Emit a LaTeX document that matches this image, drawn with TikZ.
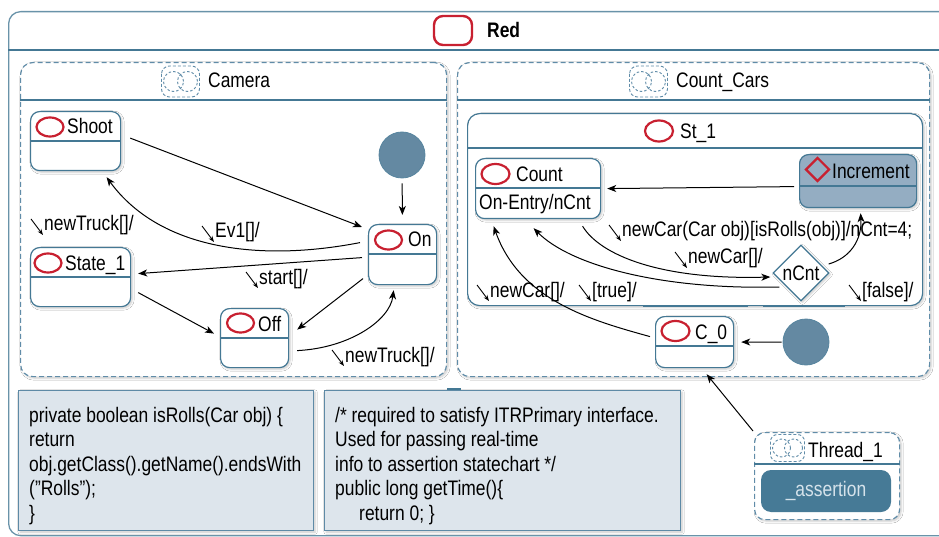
\documentclass[tikz,border=0pt]{standalone}
\usepackage{fontspec}
\setmainfont[FakeStretch=0.83]{Liberation Sans}
\usetikzlibrary{arrows.meta,shapes.geometric,shadows.blur}

\definecolor{lineblue}{RGB}{68,120,148}
\definecolor{dashblue}{RGB}{96,140,168}
\definecolor{initfill}{RGB}{100,137,162}
\definecolor{incfill}{RGB}{148,173,194}
\definecolor{codefill}{RGB}{221,229,236}
\definecolor{codeline}{RGB}{94,138,166}
\definecolor{iconred}{RGB}{200,32,48}
\definecolor{assertfill}{RGB}{70,122,150}
\definecolor{asserttext}{RGB}{214,227,235}

\tikzset{
  every node/.style={font=\fontsize{21}{24}\selectfont},
  softshadow/.style={blur shadow={shadow xshift=1.5pt,shadow yshift=-1.5pt,shadow blur steps=6,shadow opacity=22}},
  outerbox/.style={draw=lineblue!80, line width=1.3pt, fill=white, rounded corners=12pt, inner sep=0pt},
  regionbox/.style={draw=dashblue, line width=1.2pt, dash pattern=on 5pt off 3pt, fill=white, rounded corners=12pt, inner sep=0pt, softshadow},
  statebox/.style={draw=lineblue, line width=1.2pt, fill=white, rounded corners=9pt, inner sep=0pt, softshadow},
  divider/.style={draw=lineblue, line width=1.8pt},
  tickline/.style={draw=lineblue, line width=2.6pt},
  redoval/.style={draw=iconred, line width=2.2pt, ellipse, minimum width=27pt, minimum height=19pt, inner sep=0pt},
  title/.style={anchor=base west, inner sep=0pt},
  initdot/.style={circle, fill=initfill, draw=lineblue!90, line width=0.8pt, minimum size=46pt, inner sep=0pt},
  codebox/.style={draw=codeline, line width=1.2pt, fill=codefill, inner sep=0pt, softshadow},
  codetext/.style={anchor=north west, inner sep=0pt, align=left, font=\fontsize{21}{24.5}\selectfont},
  tr/.style={draw=black, line width=1pt, -{Stealth[length=9pt,width=7pt,inset=2.5pt]}},
  evtext/.style={anchor=base west, inner sep=0pt},
  evarrow/.style={draw=black, line width=0.9pt, -{Stealth[length=6pt,width=4.5pt]}},
  regionicon/.pic={
    \draw[dashblue, line width=0.9pt, dash pattern=on 3pt off 2pt, rounded corners=8pt] (-19,-15.5) rectangle (19,15.5);
    \draw[dashblue, line width=0.9pt, dash pattern=on 2.5pt off 2pt] (-7,0) circle (10pt) (7,0) circle (10pt);
  },
  smallregionicon/.pic={
    \draw[dashblue, line width=0.9pt, dash pattern=on 3pt off 2pt, rounded corners=7pt] (-17,-13.5) rectangle (17,13.5);
    \draw[dashblue, line width=0.9pt, dash pattern=on 2.5pt off 2pt] (-6,0) circle (9pt) (6,0) circle (9pt);
  }
}

% transition label with its small event arrow in front
\newcommand\evlabel[4]{%
  \node[evtext] (#1) at (#2,#3) {#4};
  \draw[evarrow] ([xshift=-13pt,yshift=12pt]#1.base west) -- ([xshift=-1pt,yshift=-4pt]#1.base west);}

\begin{document}
\begin{tikzpicture}[x=1pt,y=-1pt]
\useasboundingbox (0,0) rectangle (939,537);

% ---------- outer state Red ----------
\node[outerbox, minimum width=950pt, minimum height=524pt, anchor=north west] (red) at (8,11) {};
\draw[divider] (red.west |- 0,50) -- (red.east |- 0,50);
\node[draw=iconred, line width=2.4pt, rounded corners=9pt, minimum width=38pt, minimum height=29pt, inner sep=0pt] (redicon) at (453,30.5) {};
\node[title, font=\fontsize{21}{24}\selectfont\bfseries] (redtitle) at (487,38) {Red};

% ---------- region Camera ----------
\node[regionbox, minimum width=426pt, minimum height=314pt, anchor=north west] (camera) at (20,62) {};
\draw[divider] (camera.west |- 0,100) -- (camera.east |- 0,100);
\pic at (180.5,81.5) {regionicon};
\node[title] (cameratitle) at (208,88) {Camera};

% ---------- region Count_Cars ----------
\node[regionbox, minimum width=472pt, minimum height=314pt, anchor=north west] (countcars) at (457,62) {};
\draw[divider] (countcars.west |- 0,100) -- (countcars.east |- 0,100);
\pic at (648.5,81.5) {regionicon};
\node[title] (countcarstitle) at (676,88) {Count\_Cars};

% ---------- composite state St_1 ----------
\node[statebox, rounded corners=12pt, minimum width=455pt, minimum height=192pt, anchor=north west] (st1) at (467,113) {};
\draw[divider, line width=1.4pt] (st1.west |- 0,148) -- (st1.east |- 0,148);
\draw[tickline, line width=2pt] (615,148) -- (789,148);
\node[redoval, minimum width=28pt, minimum height=21pt] (st1icon) at (659,131) {};
\node[title] (st1title) at (680,139) {St\_1};
\draw[tickline] (643,306) -- (748,306);
\draw[tickline] (763,306) -- (845,306);

% ---------- Camera states ----------
\node[statebox, minimum width=90pt, minimum height=59pt, anchor=north west] (shoot) at (30,111) {};
\draw[divider] (shoot.west |- 0,141) -- (shoot.east |- 0,141);
\node[redoval] (shooticon) at (50,127) {};
\node[title] (shoottext) at (67,134) {Shoot};

\node[statebox, minimum width=100pt, minimum height=59pt, anchor=north west] (state1) at (30,247) {};
\draw[divider] (state1.west |- 0,277) -- (state1.east |- 0,277);
\node[redoval] (state1icon) at (48,263) {};
\node[title] (state1text) at (65,270) {State\_1};

\node[statebox, minimum width=68pt, minimum height=59pt, anchor=north west] (off) at (220,308) {};
\draw[divider] (off.west |- 0,338) -- (off.east |- 0,338);
\node[redoval] (officon) at (240.5,323) {};
\node[title] (offtext) at (258,331) {Off};

\node[statebox, minimum width=68pt, minimum height=60pt, anchor=north west] (on) at (368,224) {};
\draw[divider] (on.west |- 0,254) -- (on.east |- 0,254);
\node[redoval] (onicon) at (388.5,240) {};
\node[title] (ontext) at (408,247) {On};

\node[initdot] (init1) at (402,155) {};

% ---------- Count_Cars states ----------
\node[statebox, minimum width=125pt, minimum height=60pt, anchor=north west] (count) at (475,158) {};
\draw[divider] (count.west |- 0,188) -- (count.east |- 0,188);
\node[redoval, minimum width=28pt, minimum height=20pt] (counticon) at (495.5,174) {};
\node[title] (counttext) at (516,182) {Count};
\node[title] (countentry) at (479,210) {On-Entry/nCnt};

\node[statebox, fill=incfill, minimum width=117pt, minimum height=53pt, anchor=north west] (increment) at (799,154) {};
\draw[divider] (increment.west |- 0,186) -- (increment.east |- 0,186);
\node[diamond, draw=iconred, line width=2.2pt, minimum width=24pt, minimum height=24pt, inner sep=0pt] (incicon) at (817.5,169.5) {};
\node[title] (inctext) at (832,179) {Increment};

\node[diamond, draw=lineblue, line width=1.3pt, fill=white, minimum width=56pt, minimum height=56pt, inner sep=0pt, softshadow] (ncnt) at (801,273) {nCnt};

\node[statebox, minimum width=78pt, minimum height=51pt, anchor=north west] (c0) at (655,316) {};
\draw[divider] (c0.west |- 0,346) -- (c0.east |- 0,346);
\node[redoval, minimum width=28pt, minimum height=20pt] (c0icon) at (675.5,331) {};
\node[title] (c0text) at (695,339) {C\_0};

\node[initdot] (init2) at (806,342) {};

% ---------- Thread_1 ----------
\node[regionbox, rounded corners=10pt, minimum width=145pt, minimum height=87pt, anchor=north west] (thread1) at (754,432) {};
\draw[divider, line width=1.5pt] (thread1.west |- 0,464) -- (thread1.east |- 0,464);
\pic at (787.5,448) {smallregionicon};
\node[title] (thread1title) at (808,457) {Thread\_1};
\node[fill=assertfill, rounded corners=10pt, minimum width=130pt, minimum height=42pt, inner sep=0pt, text=asserttext] (assertion) at (826,491) {\_assertion};

% ---------- code notes ----------
\node[codebox, minimum width=295pt, minimum height=140pt, anchor=north west] (code1) at (18,390) {};
\node[codetext] (code1text) at (29,407) {private boolean isRolls(Car obj) \{\\ return\\ obj.getClass().getName().endsWith\\ (”Rolls”);\\ \}};
\node[codebox, minimum width=356pt, minimum height=140pt, anchor=north west] (code2) at (324,390) {};
\node[codetext] (code2text) at (335,407) {/* required to satisfy ITRPrimary interface.\\ Used for passing real-time\\ info to assertion statechart */\\ public long getTime()\{\\ \hspace*{24pt}return 0; \}};
\draw[tickline] (447,389) -- (461,389);

% ---------- Camera transitions ----------
\draw[tr] ([xshift=9pt,yshift=3pt]shoot.east) -- ([xshift=-6pt,yshift=-3pt]on.north west);
\draw[tr, shorten <=5pt, shorten >=9pt] (init1) -- (on);
\draw[tr] ([xshift=-8pt,yshift=12pt]on.west) .. controls (260,262) and (160,250) .. ([xshift=31pt,yshift=-6pt]shoot.south);
\draw[tr] ([xshift=-6pt,yshift=-3pt]on.west) -- ([xshift=7pt,yshift=3.5pt]state1.east);
\draw[tr] ([xshift=7pt,yshift=-15.5pt]state1.east) -- ([xshift=-6pt,yshift=4.5pt]off.west);
\draw[tr] ([xshift=-5pt,yshift=-24pt]on.west) -- ([xshift=8pt,yshift=8.5pt]off.east);
\draw[tr] ([xshift=8pt,yshift=-12.5pt]off.east) .. controls (350,348) and (390,320) .. ([xshift=-9pt,yshift=-5pt]on.south);

% ---------- Count_Cars transitions ----------
\draw[tr] ([xshift=-5pt,yshift=-5.5pt]increment.west) -- ([xshift=6pt]count.east);
\draw[tr] ([xshift=44.5pt,yshift=-7pt]count.south) .. controls (600,255) and (660,280) .. ([xshift=-2pt,yshift=-4pt]ncnt.west);
\draw[tr] ([xshift=7pt,yshift=-14pt]ncnt.west) .. controls (660,290) and (570,265) .. ([xshift=-4.5pt,yshift=-9pt]count.south);
\draw[tr] ([xshift=-1pt,yshift=9pt]ncnt.east) .. controls (850,258) and (862,240) .. ([xshift=2.5pt,yshift=-5pt]increment.south);
\draw[tr] ([xshift=-5pt,yshift=5.5pt]c0.west) .. controls (590,320) and (520,300) .. ([xshift=-44.5pt,yshift=-7pt]count.south);
\draw[tr, shorten <=1pt, shorten >=7pt] (init2) -- (c0);
\draw[tr] ([xshift=-1pt,yshift=1pt]thread1.north west) -- ([xshift=12pt,yshift=-6pt]c0.south);

% ---------- transition labels ----------
\evlabel{lbltrucka}{44}{231}{newTruck[]/}
\evlabel{lblevone}{215}{238}{Ev1[]/}
\evlabel{lblstart}{259}{284}{start[]/}
\evlabel{lbltruckb}{345}{362}{newTruck[]/}
\evlabel{lblrolls}{622}{237}{newCar(Car obj)[isRolls(obj)]/nCnt=4;}
\evlabel{lblcara}{688}{264}{newCar[]/}
\evlabel{lbltrue}{592}{297}{[true]/}
\evlabel{lblfalse}{862}{297}{[false]/}
\evlabel{lblcarb}{490}{297}{newCar[]/}
\end{tikzpicture}
\end{document}
